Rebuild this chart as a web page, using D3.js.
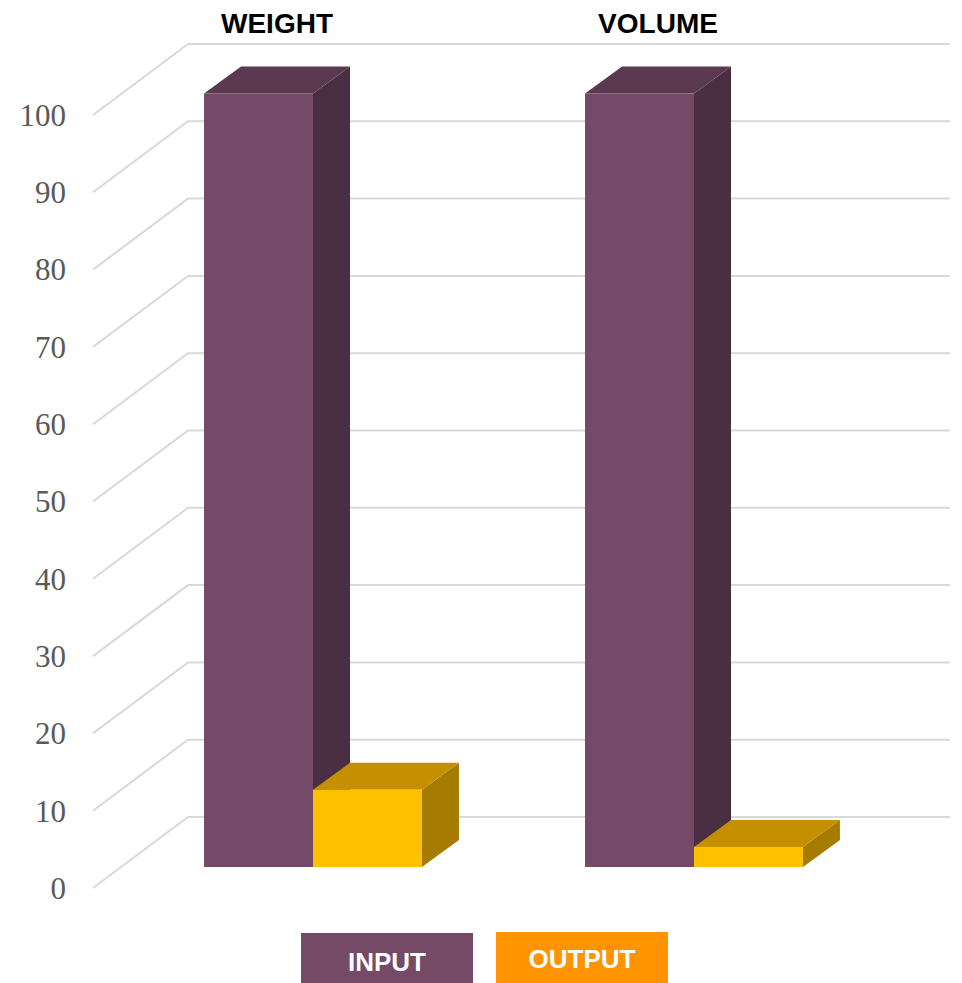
<!DOCTYPE html>
<html>
<head>
<meta charset="utf-8">
<script src="https://cdn.jsdelivr.net/npm/d3@7"></script>
<style>
  html, body { margin: 0; padding: 0; background: #fff; }
  svg { display: block; }
</style>
</head>
<body>
<svg id="chart" width="962" height="983"></svg>
<script>
const categories = ["WEIGHT", "VOLUME"];
const series = ["INPUT", "OUTPUT"];
const inputValues = [100, 100];
const outputValues = [10, 2.6];
const tickValues = [0, 10, 20, 30, 40, 50, 60, 70, 80, 90, 100];

const svg = d3.select("#chart");

// Wall geometry
const yFront = d3.scaleLinear().domain([0, 100]).range([888, 115]);
const yBack = d3.scaleLinear().domain([0, 100]).range([817, 44]);
const xFrontWall = 93, xBackWall = 188, xRightWall = 950;
// Bar front-face plane
const yBar = d3.scaleLinear().domain([0, 100]).range([867, 93.5]);
const depthDx = 37, depthDy = 27;

const xCat = d3.scaleBand().domain(categories).range([122.5, 884.5])
  .paddingInner(0.428).paddingOuter(0.214);
const xSer = d3.scaleBand().domain(series).range([0, xCat.bandwidth()]).padding(0);

const colors = {
  INPUT: { front: "#754a68", top: "#5a3951", side: "#4a2f43" },
  OUTPUT: { front: "#ffc000", top: "#c49000", side: "#a67c00" }
};
const legendColors = { INPUT: "#754a67", OUTPUT: "#ff9300" };

// Gridlines
const grid = svg.append("g");
tickValues.forEach(t => {
  grid.append("path")
    .attr("d", `M${xFrontWall},${yFront(t)}L${xBackWall},${yBack(t)}L${xRightWall},${yBack(t)}`)
    .attr("fill", "none")
    .attr("stroke", "#d9d9d9")
    .attr("stroke-width", 2);
});

// Tick labels
svg.append("g").selectAll("text").data(tickValues).join("text")
  .attr("x", 66)
  .attr("y", d => yFront(d))
  .attr("dy", "0.35em")
  .attr("text-anchor", "end")
  .attr("font-family", "'Liberation Serif', 'DejaVu Serif', serif")
  .attr("font-size", 31)
  .attr("fill", "#595959")
  .text(d => d);

// Bars
const bars = svg.append("g");
categories.forEach((cat, ci) => {
  const vals = { INPUT: inputValues[ci], OUTPUT: outputValues[ci] };
  series.forEach(s => {
    const x0 = xCat(cat) + xSer(s);
    const x1 = x0 + xSer.bandwidth();
    const yt = yBar(vals[s]);
    const yb = yBar(0);
    const c = colors[s];
    // side
    bars.append("path")
      .attr("d", `M${x1},${yb}L${x1 + depthDx},${yb - depthDy}L${x1 + depthDx},${yt - depthDy}L${x1},${yt}Z`)
      .attr("fill", c.side);
    // top
    bars.append("path")
      .attr("d", `M${x0},${yt}L${x0 + depthDx},${yt - depthDy}L${x1 + depthDx},${yt - depthDy}L${x1},${yt}Z`)
      .attr("fill", c.top);
    // front
    bars.append("rect")
      .attr("x", x0).attr("y", yt)
      .attr("width", x1 - x0).attr("height", yb - yt)
      .attr("fill", c.front);
  });
});

// Category labels
svg.append("g").selectAll("text").data(categories).join("text")
  .attr("x", d => xCat(d) + xCat.bandwidth() / 2 - 36)
  .attr("y", 33)
  .attr("text-anchor", "middle")
  .attr("font-family", "'Liberation Sans', Arial, sans-serif")
  .attr("font-weight", "bold")
  .attr("font-size", 28)
  .attr("fill", "#000")
  .text(d => d);

// Legend
const legendX = d3.scaleOrdinal().domain(series).range([301, 496]);
const legend = svg.append("g");
series.forEach((s, i) => {
  legend.append("rect")
    .attr("x", legendX(s)).attr("y", i === 0 ? 933 : 932)
    .attr("width", 172).attr("height", 52)
    .attr("fill", legendColors[s]);
  legend.append("text")
    .attr("x", legendX(s) + 86)
    .attr("y", i === 0 ? 971 : 968)
    .attr("text-anchor", "middle")
    .attr("font-family", "'Liberation Sans', Arial, sans-serif")
    .attr("font-weight", "bold")
    .attr("font-size", 26)
    .attr("fill", "#fff")
    .text(s);
});
</script>
</body>
</html>
